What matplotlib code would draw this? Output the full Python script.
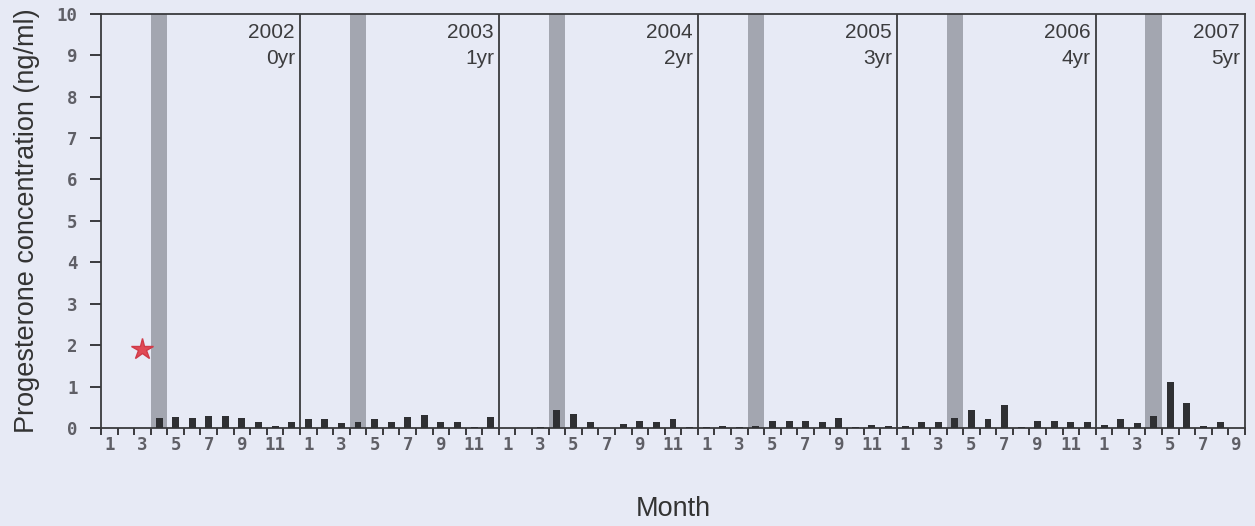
import numpy as np
import matplotlib.pyplot as plt

# data (ng/ml), one value per month, None = no sample
years = ['2002', '2003', '2004', '2005', '2006', '2007']
ages = ['0yr', '1yr', '2yr', '3yr', '4yr', '5yr']
months_per_year = [12, 12, 12, 12, 12, 9]

p4_2002 = [None, None, None, 0.24, 0.26, 0.24, 0.30, 0.30, 0.24, 0.14, 0.06, 0.16]
p4_2003 = [0.21, 0.21, 0.13, 0.16, 0.22, 0.14, 0.26, 0.31, 0.14, 0.14, 0.03, 0.27]
p4_2004 = [None, None, 0.04, 0.44, 0.33, 0.15, None, 0.10, 0.17, 0.15, 0.22, 0.04]
p4_2005 = [0.04, 0.06, 0.04, 0.05, 0.17, 0.17, 0.17, 0.14, 0.24, 0.04, 0.07, 0.05]
p4_2006 = [0.06, 0.15, 0.15, 0.25, 0.43, 0.22, 0.57, 0.03, 0.17, 0.17, 0.14, 0.14]
p4_2007 = [0.08, 0.23, 0.13, 0.30, 1.12, 0.61, 0.05, 0.15, None]

# grey band = April each year
band_month = 4
# red star: single reading before the series starts
star_month = 3
star_value = 1.92

series = [p4_2002, p4_2003, p4_2004, p4_2005, p4_2006, p4_2007]

bg = '#e7eaf5'
fig = plt.figure(figsize=(12.55, 5.26), dpi=100, facecolor=bg)
ax = fig.add_axes([0.0805, 0.186, 0.9115, 0.788], facecolor=bg)

offsets = np.concatenate([[0], np.cumsum(months_per_year)[:-1]])
total = int(np.sum(months_per_year))

# bars
xs, hs = [], []
for off, vals in zip(offsets, series):
    for m, v in enumerate(vals):
        if v is not None:
            xs.append(off + m + 0.5)
            hs.append(v)
ax.bar(xs, hs, width=0.42, color='#2f3033', zorder=3)

# April bands and year dividers
for i, off in enumerate(offsets):
    ax.axvspan(off + band_month - 1, off + band_month, color='#a3a6b0', lw=0, zorder=1)
    if i > 0:
        ax.axvline(off, color='#3a3a3d', lw=1.3, zorder=4)
    end = off + months_per_year[i]
    ax.text(end - 0.3, 9.77, years[i], ha='right', va='top', fontsize=15,
            color='#3c3c3e', family='Liberation Sans')
    ax.text(end - 0.3, 9.15, ages[i], ha='right', va='top', fontsize=15,
            color='#3c3c3e', family='Liberation Sans')

ax.plot(star_month - 0.5, star_value, marker='*', ms=16, color='#e04a55',
        mec='#d03a48', zorder=5)

ax.set_xlim(0, total)
ax.set_ylim(0, 10)

# ticks: marks at month boundaries, labels at odd month centres
ax.set_xticks(np.arange(0, total + 1))
ax.set_xticklabels([])
ax.tick_params(axis='x', which='major', direction='out', length=5, width=1.4,
               color='#3a3a3d')
centers, labels = [], []
for off, n in zip(offsets, months_per_year):
    for m in range(1, n + 1, 2):
        centers.append(off + m - 0.5)
        labels.append(str(m))
ax.set_xticks(centers, minor=True)
ax.set_xticklabels(labels, minor=True, fontsize=12.5, color='#5f5f66',
                   family='DejaVu Sans Mono', fontweight='bold')
ax.tick_params(axis='x', which='minor', length=0, pad=6)

ax.set_yticks(range(0, 11))
ax.tick_params(axis='y', direction='out', length=8, width=1.4, color='#3a3a3d',
               labelsize=12.5, labelcolor='#5f5f66', pad=9)
for t in ax.get_yticklabels():
    t.set_family('DejaVu Sans Mono')
    t.set_fontweight('bold')

for s in ax.spines.values():
    s.set_color('#3a3a3d')
    s.set_linewidth(1.3)

ax.set_ylabel('Progesterone concentration (ng/ml)', fontsize=19.5,
              family='Liberation Sans', color='#333333', labelpad=12)
ax.set_xlabel('Month', fontsize=19.5, family='Liberation Sans',
              color='#333333', labelpad=30)

fig.savefig('out.png', dpi=100, facecolor=bg)
